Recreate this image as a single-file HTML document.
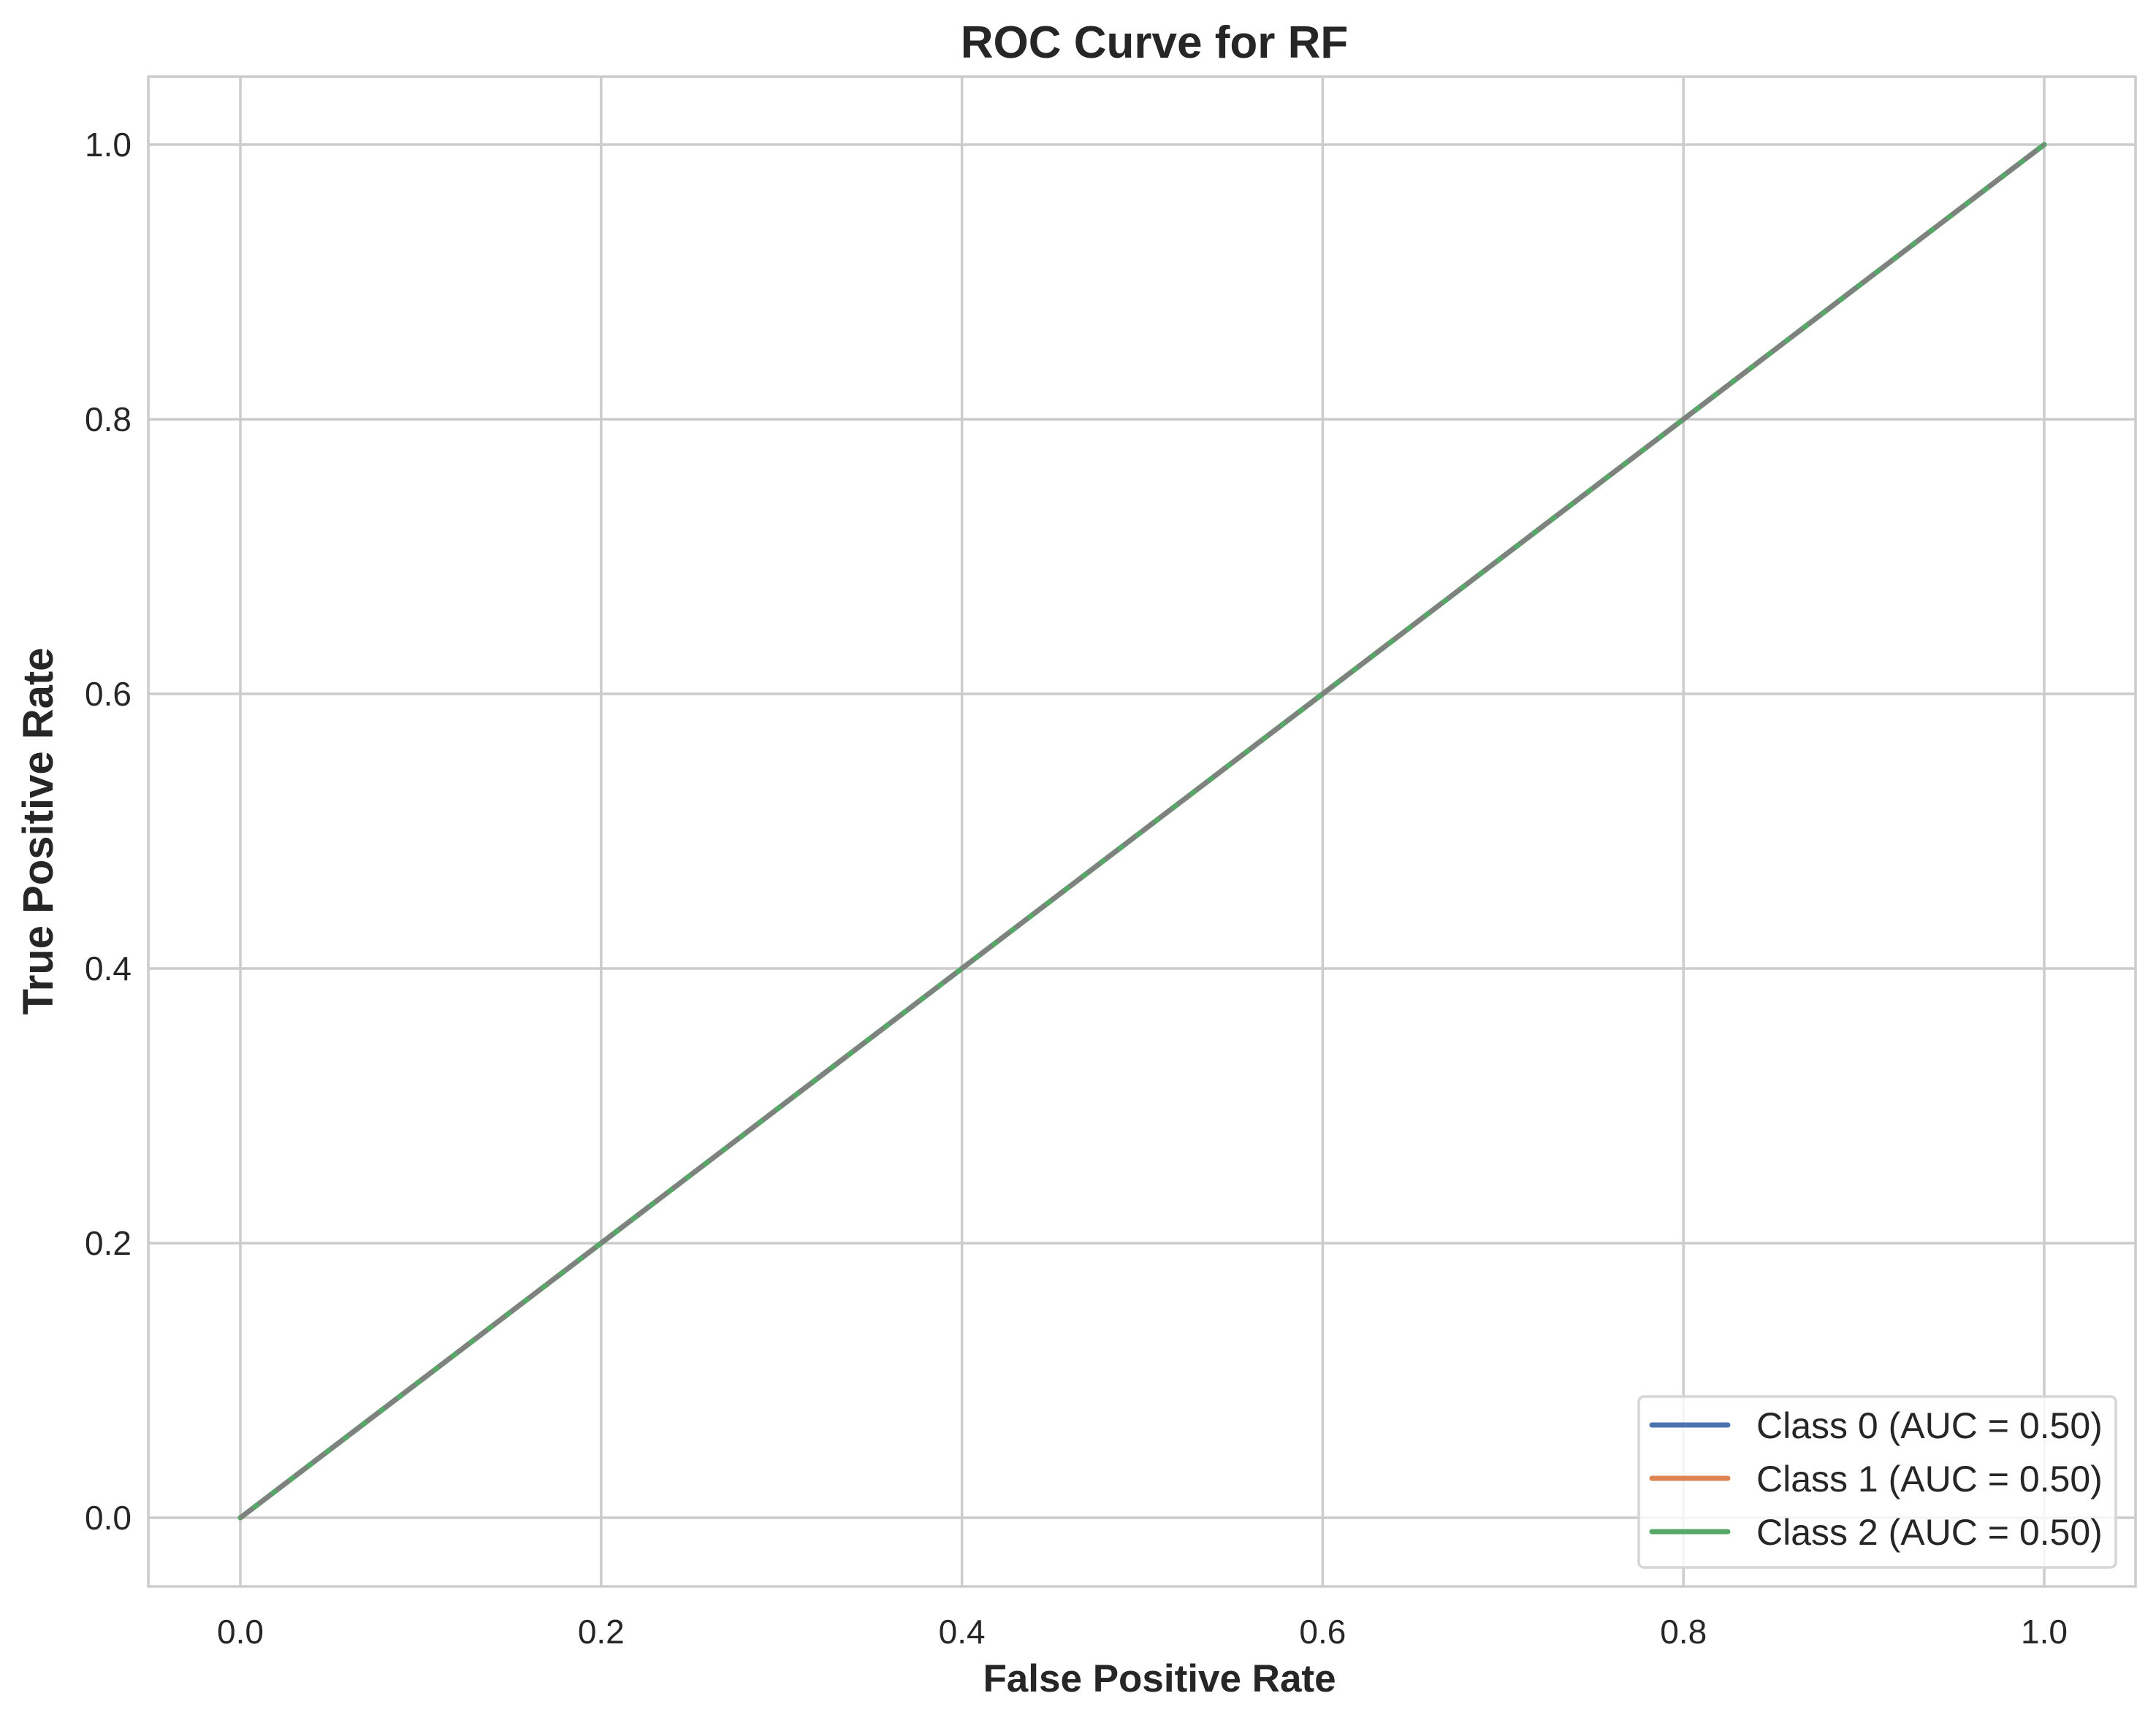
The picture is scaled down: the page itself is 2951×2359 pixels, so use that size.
<!DOCTYPE html>
<html><head><meta charset="utf-8"><style>
html,body{margin:0;padding:0;background:#fff;}
svg text{font-family:"Liberation Sans",Arial,sans-serif;fill:#262626;}
</style></head><body>
<svg id="chart" width="2951" height="2354" xmlns="http://www.w3.org/2000/svg">
<rect width="2951" height="2354" fill="#fff"/>
<g id="grid"></g>
<g id="series"></g>
<g id="ticks"></g>
<rect x="203" y="105" width="2720" height="2067" fill="none" stroke="#cccccc" stroke-width="3.5"/>
<text x="1580" y="79" font-size="62" font-weight="bold" text-anchor="middle">ROC Curve for RF</text>
<text x="1587" y="2316" font-size="53" font-weight="bold" text-anchor="middle">False Positive Rate</text>
<text x="0" y="0" font-size="58" font-weight="bold" text-anchor="middle" transform="translate(72,1138) rotate(-90)">True Positive Rate</text>
<g id="legend"></g>
</svg>
<script>
const classNames = ["Class 0", "Class 1", "Class 2"];
const aucValues = [0.50, 0.50, 0.50];
const fprValues = [[0, 1], [0, 1], [0, 1]];
const tprValues = [[0, 1], [0, 1], [0, 1]];
const xTicks = [0, 0.2, 0.4, 0.6, 0.8, 1.0];
const yTicks = [0, 0.2, 0.4, 0.6, 0.8, 1.0];
const colors = ["#4c72b0", "#dd8452", "#55a868"];

const NS = "http://www.w3.org/2000/svg";
const X0 = 329, X1 = 2798, Y0 = 2078, Y1 = 198;
function xs(v){ return X0 + (X1 - X0) * v; }
function ys(v){ return Y0 - (Y0 - Y1) * v; }
function mk(tag, attrs, parent){
  const e = document.createElementNS(NS, tag);
  for (const k in attrs) e.setAttribute(k, attrs[k]);
  parent.appendChild(e);
  return e;
}
const grid = document.getElementById('grid');
const ticks = document.getElementById('ticks');
xTicks.forEach(t => {
  const l = mk('line', {x1: xs(t), x2: xs(t), y1: 105, y2: 2172, stroke: '#cccccc', 'stroke-width': 3.5}, grid);
  
  
  const tx = mk('text', {x: xs(t), y: 2250, 'font-size': 46, 'text-anchor': 'middle'}, ticks);
  tx.textContent = t.toFixed(1);
  
  
});
yTicks.forEach(t => {
  const l = mk('line', {x1: 203, x2: 2923, y1: ys(t), y2: ys(t), stroke: '#cccccc', 'stroke-width': 3.5}, grid);
  
  
  const tx = mk('text', {x: 180, y: ys(t) + 16, 'font-size': 46, 'text-anchor': 'end'}, ticks);
  tx.textContent = t.toFixed(1);
  
  
});
const series = document.getElementById('series');
classNames.forEach((c, i) => {
  const pts = fprValues[i].map((f, j) => xs(f) + ',' + ys(tprValues[i][j])).join(' ');
  const p = mk('polyline', {points: pts, fill: 'none', stroke: colors[i], 'stroke-width': 7, 'stroke-linecap': 'round'}, series);
  
  
});
const diag = mk('line', {x1: xs(0), y1: ys(0), x2: xs(1), y2: ys(1), stroke: '#808080', 'stroke-width': 6, 'stroke-dasharray': '22 9'}, series);



const lg = document.getElementById('legend');
const box = mk('rect', {x: 2243, y: 1912, width: 653, height: 234, rx: 7, fill: '#ffffff', 'fill-opacity': 0.8, stroke: '#d6d6d6', 'stroke-width': 3.5}, lg);


classNames.forEach((c, i) => {
  const y = 1951 + i * 73;
  const l = mk('line', {x1: 2261, x2: 2365, y1: y, y2: y, stroke: colors[i], 'stroke-width': 7, 'stroke-linecap': 'round'}, lg);
  
  
  const t = mk('text', {x: 2404, y: y + 18, 'font-size': 50}, lg);
  t.textContent = c + ' (AUC = ' + aucValues[i].toFixed(2) + ')';
  
  
});
</script>
</body></html>
